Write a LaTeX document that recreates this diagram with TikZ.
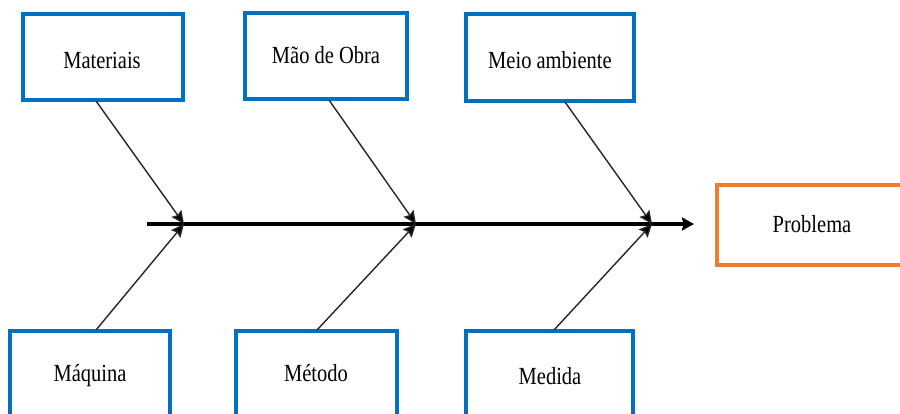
\documentclass[tikz,border=0pt]{standalone}
\usepackage{fontspec}
\setmainfont{Liberation Serif}
\usetikzlibrary{arrows.meta}
\definecolor{boxblue}{HTML}{0070C0}
\definecolor{boxorange}{HTML}{ED7D31}
\definecolor{bonegray}{HTML}{262626}
\newcommand{\lbl}[1]{\scalebox{1}[1.2]{#1}}
\tikzset{
  catbox/.style={draw=boxblue, line width=3.2pt, fill=white, inner sep=0pt},
  probbox/.style={draw=boxorange, line width=3.2pt, fill=white, inner sep=0pt},
  bone/.style={draw=bonegray, line width=1.4pt, -{Stealth[length=13pt,width=12pt,inset=2pt,fill=black]}},
  spine/.style={draw=black, line width=3.4pt, -{Stealth[length=12pt,width=13pt,inset=1.5pt]}},
  txt/.style={font=\fontsize{20.5}{22}\selectfont, inner sep=0pt}
}
\begin{document}
\begin{tikzpicture}[x=1pt,y=-1pt]
\useasboundingbox (0,0) rectangle (900,413);
\clip (0,0) rectangle (900,413);
% boxes
\draw[catbox] (23,14) rectangle (183,100);
\draw[catbox] (245,13) rectangle (407,99);
\draw[catbox] (466,14) rectangle (634,101);
\draw[catbox] (10,331) rectangle (170,430);
\draw[catbox] (236,331) rectangle (397,430);
\draw[catbox] (466,331) rectangle (633,430);
\draw[probbox] (717,185) rectangle (920,265);
% labels
\node[txt] (mat) at (102,60) {\lbl{Materiais}};
\node[txt] (mao) at (326,55) {\lbl{Mão de Obra}};
\node[txt] (mei) at (550,60) {\lbl{Meio ambiente}};
\node[txt] (maq) at (90,376) {\lbl{Máquina}};
\node[txt] (met) at (316,373) {\lbl{Método}};
\node[txt] (med) at (550,376) {\lbl{Medida}};
\node[txt] (prob) at (812,224) {\lbl{Problema}};
% anchors
\coordinate (s0) at (147,224);
\coordinate (s1) at (694,224);
\coordinate (j1) at (184,224);
\coordinate (j2) at (416,224);
\coordinate (j3) at (652,224);
\coordinate (t1) at (96,101);
\coordinate (t2) at (329,100);
\coordinate (t3) at (565,102);
\coordinate (b1) at (96,330);
\coordinate (b2) at (317,330);
\coordinate (b3) at (554,330);
% spine
\draw[spine] (s0) -- (s1);
% bones
\draw[bone] (t1) -- (j1);
\draw[bone] (t2) -- (j2);
\draw[bone] (t3) -- (j3);
\draw[bone] (b1) -- (j1);
\draw[bone] (b2) -- (j2);
\draw[bone] (b3) -- (j3);
\end{tikzpicture}
\end{document}
